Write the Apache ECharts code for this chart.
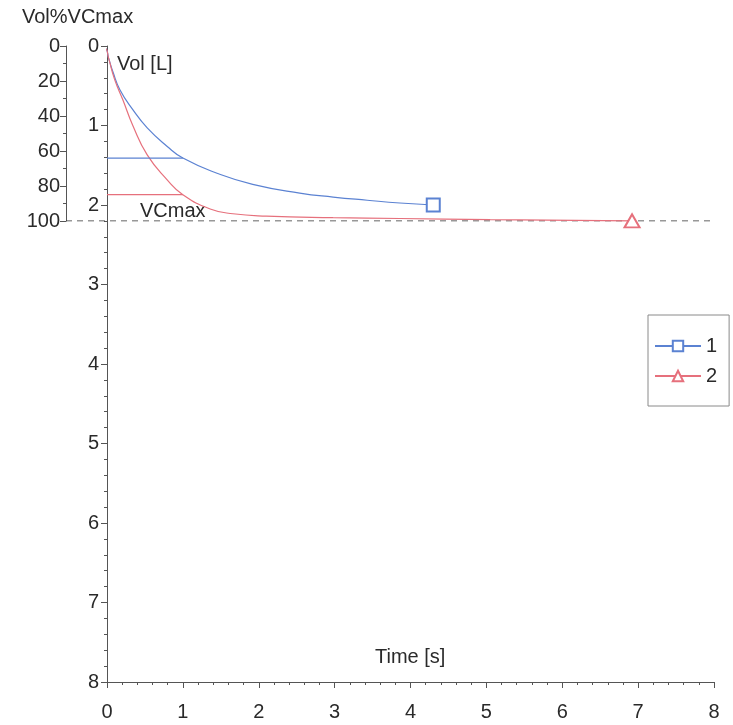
<!DOCTYPE html>
<html>
<head>
<meta charset="utf-8">
<script src="https://cdn.jsdelivr.net/npm/echarts@6/dist/echarts.min.js"></script>
<style>
  html, body { margin: 0; padding: 0; background: #fff; }
  #chart { width: 733px; height: 725px; }
</style>
</head>
<body>
<div id="chart"></div>
<script>
// spirogram volume / time, two trials
const timeTicks = [0, 1, 2, 3, 4, 5, 6, 7, 8]
const volTicks = [0, 1, 2, 3, 4, 5, 6, 7, 8]
const pctTicks = [0, 20, 40, 60, 80, 100]
const vcmaxPct = 100
const vcmaxLabel = 'VCmax'

// trial 1 [time s, vol L]
const trial1 = [
  [-0.09, 0.02], [-0.02, 0.03], [0.02, 0.15], [0.08, 0.33], [0.17, 0.55], [0.34, 0.8],
  [0.53, 1.03], [0.79, 1.26], [1.0, 1.41], [1.45, 1.6], [1.92, 1.74], [2.54, 1.85],
  [2.98, 1.9], [3.43, 1.94], [3.86, 1.975], [4.3, 2.0]
]
// trial 2
const trial2 = [
  [-0.09, 0.02], [-0.02, 0.03], [0.02, 0.15], [0.1, 0.42], [0.21, 0.68], [0.34, 1.0],
  [0.53, 1.37], [0.79, 1.68], [1.0, 1.87], [1.36, 2.05], [1.66, 2.11], [2.1, 2.14],
  [2.98, 2.16], [3.86, 2.17], [5.05, 2.185], [6.92, 2.2]
]
// FEV1 marks at t = 1 s
const fev1Trial1 = [[0, 1.41], [1.0, 1.41]]
const fev1Trial2 = [[0, 1.87], [1.0, 1.87]]

const blue = '#5b82d2'
const red = '#e6707c'
const ink = '#2a2a2a'
const axisCol = '#555'
const font = 'Liberation Sans, Arial, sans-serif'

// only the last sample gets a marker
function withEndMarker(arr) {
  return arr.map((p, i) => i === arr.length - 1 ? { value: p } : { value: p, symbol: 'none' })
}

const chart = echarts.init(document.getElementById('chart'))

const option = {
  backgroundColor: '#fff',
  animation: false,
  textStyle: { fontFamily: font },
  grid: [
    { left: 107, right: 19, top: 46, bottom: 43, outerBoundsMode: 'none' },
    { left: 66, right: 19, top: 46, height: 175, outerBoundsMode: 'none' },
  ],
  xAxis: [
    {
      type: 'value',
      gridIndex: 0,
      position: 'bottom',
      min: timeTicks[0],
      max: timeTicks[timeTicks.length - 1],
      interval: 1,
      axisLine: { onZero: false, lineStyle: { color: axisCol } },
      axisTick: { length: 6, lineStyle: { color: axisCol } },
      minorTick: { show: true, splitNumber: 5, length: 3, lineStyle: { color: axisCol } },
      axisLabel: { color: ink, fontSize: 20, margin: 20, fontFamily: font },
      splitLine: { show: false },
    },
    {
      type: 'value',
      gridIndex: 1,
      min: 0,
      max: 1,
      show: false,
    },
  ],
  yAxis: [
    {
      type: 'value',
      gridIndex: 0,
      inverse: true,
      min: volTicks[0],
      max: volTicks[volTicks.length - 1],
      interval: 1,
      axisLine: { show: true, onZero: false, lineStyle: { color: axisCol } },
      axisTick: { show: true, length: 6, lineStyle: { color: axisCol } },
      minorTick: { show: true, splitNumber: 5, length: 3, lineStyle: { color: axisCol } },
      axisLabel: { color: ink, fontSize: 20, margin: 8, fontFamily: font },
      splitLine: { show: false },
    },
    {
      type: 'value',
      gridIndex: 1,
      inverse: true,
      min: pctTicks[0],
      max: pctTicks[pctTicks.length - 1],
      interval: 20,
      axisLine: { show: true, onZero: false, lineStyle: { color: axisCol } },
      axisTick: { show: true, length: 6, lineStyle: { color: axisCol } },
      minorTick: { show: true, splitNumber: 2, length: 3, lineStyle: { color: axisCol } },
      axisLabel: { color: ink, fontSize: 20, margin: 6, fontFamily: font },
      splitLine: { show: false },
    },
  ],
  legend: {
    orient: 'vertical',
    left: 648,
    top: 315,
    data: ['1', '2'],
    borderColor: '#8a8a8a',
    borderWidth: 1,
    borderRadius: 0,
    padding: [21, 12, 20, 6],
    itemWidth: 46,
    itemHeight: 13,
    itemGap: 10,
    textStyle: { color: ink, fontSize: 20, fontFamily: font },
  },
  graphic: [
    { type: 'text', left: 22, top: 7, style: { text: 'Vol%VCmax', fill: ink, font: '20px ' + font } },
    { type: 'text', left: 117, top: 54, style: { text: 'Vol [L]', fill: ink, font: '20px ' + font } },
    { type: 'text', left: 140, top: 201, style: { text: vcmaxLabel, fill: ink, font: '20px ' + font } },
    { type: 'text', left: 375, top: 647, style: { text: 'Time [s]', fill: ink, font: '20px ' + font } },
  ],
  series: [
    {
      name: 'vcmax',
      type: 'line',
      xAxisIndex: 1,
      yAxisIndex: 1,
      data: [[0, vcmaxPct], [1, vcmaxPct]],
      showSymbol: false,
      symbol: 'none',
      silent: true,
      lineStyle: { color: '#333', width: 1.2, type: [6, 5] },
      z: 1,
    },
    {
      name: '1',
      type: 'line',
      xAxisIndex: 0,
      yAxisIndex: 0,
      data: withEndMarker(trial1),
      symbol: 'emptyRect',
      symbolSize: 13,
      smooth: 0.5,
      clip: false,
      itemStyle: { color: blue, borderColor: blue, borderWidth: 1.3 },
      lineStyle: { color: blue, width: 1.2 },
      z: 3,
    },
    {
      name: '2',
      type: 'line',
      xAxisIndex: 0,
      yAxisIndex: 0,
      data: withEndMarker(trial2),
      symbol: 'emptyTriangle',
      symbolSize: [15, 13],
      smooth: 0.5,
      clip: false,
      itemStyle: { color: red, borderColor: red, borderWidth: 1.3 },
      lineStyle: { color: red, width: 1.2 },
      z: 3,
    },
    {
      name: 'fev1-1',
      type: 'line',
      xAxisIndex: 0,
      yAxisIndex: 0,
      data: fev1Trial1,
      symbol: 'none',
      silent: true,
      lineStyle: { color: blue, width: 1.2 },
    },
    {
      name: 'fev1-2',
      type: 'line',
      xAxisIndex: 0,
      yAxisIndex: 0,
      data: fev1Trial2,
      symbol: 'none',
      silent: true,
      lineStyle: { color: red, width: 1.2 },
    },
  ],
}

chart.setOption(option)
</script>
</body>
</html>
